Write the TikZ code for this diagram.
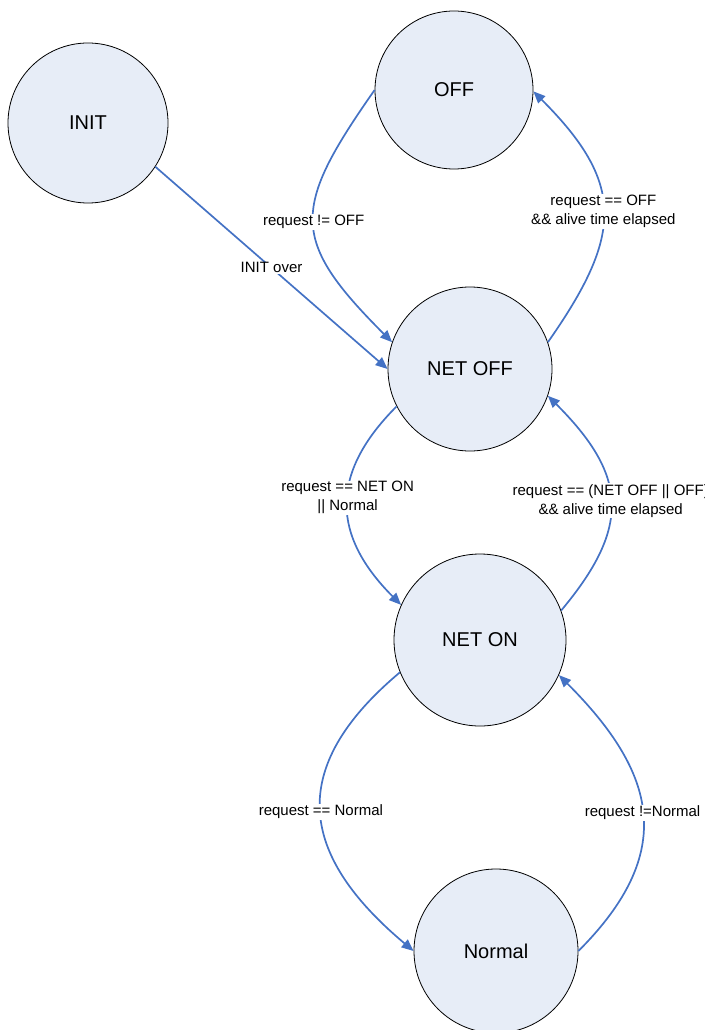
\documentclass[tikz,border=0pt]{standalone}
\usepackage{fontspec}
\setmainfont{Liberation Sans}
\usetikzlibrary{arrows.meta}
\definecolor{edgeblue}{RGB}{68,114,196}
\definecolor{statefill}{RGB}{231,237,247}
\begin{document}
\begin{tikzpicture}[x=1pt,y=1pt,
  state/.style={circle, draw=black, line width=0.8pt, fill=statefill, inner sep=0pt, font=\fontsize{20}{24}\selectfont},
  trans/.style={draw=edgeblue, line width=1.7pt, -{Triangle[length=12pt,width=10pt]}},
  lbl/.style={fill=white, inner sep=1pt, align=center, font=\fontsize{15}{19}\selectfont, text=black}]
\useasboundingbox (0,0) rectangle (704,-1030);
\node[state, minimum size=160pt] (init) at (88,-123) {INIT};
\node[state, minimum size=158pt] (off) at (454,-90) {OFF};
\node[state, minimum size=164pt] (netoff) at (470,-369) {NET OFF};
\node[state, minimum size=172pt] (neton) at (480,-640) {NET ON};
\node[state, minimum size=164pt] (normal) at (496,-951) {Normal};

\draw[trans] (init.-33) -- node[lbl, pos=0.5] {INIT over} (netoff.180);
\draw[trans] (off.180) to[out=235, in=135, looseness=1.47] node[lbl, pos=0.5] {request != OFF} (netoff.161);
\draw[trans] (netoff.19) to[out=55, in=-45, looseness=1.33] node[lbl, pos=0.5] {request == OFF\\\&\& alive time elapsed} (off.-1);
\draw[trans] (netoff.207) to[out=225, in=135, looseness=1.245] node[lbl, pos=0.46] {request == NET ON\\|| Normal} (neton.156);
\draw[trans] (neton.20) to[out=50, in=-45, looseness=1.32] node[lbl, pos=0.5] {request == (NET OFF || OFF)\\\&\& alive time elapsed} (netoff.-19);
\draw[trans] (neton.202) to[out=220, in=140, looseness=1.37] node[lbl, pos=0.5] {request == Normal} (normal.180);
\draw[trans] (normal.0) to[out=45, in=-45, looseness=1.29] node[lbl, pos=0.5] {request !=Normal} (neton.-24);
\end{tikzpicture}
\end{document}
